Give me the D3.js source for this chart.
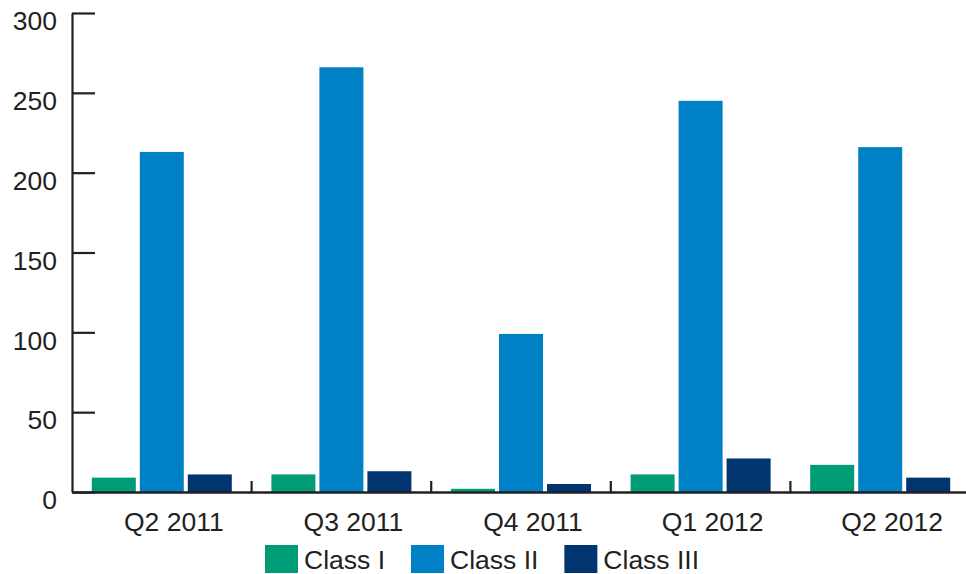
<!DOCTYPE html>
<html>
<head>
<meta charset="utf-8">
<script src="https://cdn.jsdelivr.net/npm/d3@7"></script>
<style>
  body { margin: 0; background: #fff; }
  svg { display: block; font-family: "Liberation Sans", Arial, Helvetica, sans-serif; }
</style>
</head>
<body>
<svg id="chart" width="966" height="574"></svg>
<script>
// data
var quarters = ["Q2 2011", "Q3 2011", "Q4 2011", "Q1 2012", "Q2 2012"];
var seriesNames = ["Class I", "Class II", "Class III"];
var classI = [9, 11, 2, 11, 17];
var classII = [213, 266, 99, 245, 216];
var classIII = [11, 13, 5, 21, 9];
var yTicks = [0, 50, 100, 150, 200, 250, 300];
var colors = ["#009b77", "#0081c6", "#00356f"];

var seriesValues = [classI, classII, classIII];
var ink = "#231f20";

var svg = d3.select("#chart");

// plot box (window.top is reserved, so prefixed names)
var plotLeft = 72, plotRight = 970, plotTop = 13, plotBottom = 492;

var x0 = d3.scaleBand().domain(quarters).range([plotLeft, plotRight]).padding(0);
var x1 = d3.scaleBand().domain(seriesNames).range([0, x0.bandwidth()])
    .paddingInner(0.0833).paddingOuter(0.4125);
var y = d3.scaleLinear().domain([0, 300]).range([plotBottom, plotTop]);
var color = d3.scaleOrdinal().domain(seriesNames).range(colors);

// bars
var groups = svg.append("g").selectAll("g")
    .data(quarters)
    .enter().append("g")
    .attr("transform", function(d) { return "translate(" + x0(d) + ",0)"; });

groups.selectAll("rect")
    .data(function(d, i) {
        return seriesNames.map(function(s, j) { return {name: s, value: seriesValues[j][i]}; });
    })
    .enter().append("rect")
    .attr("x", function(d) { return x1(d.name); })
    .attr("width", x1.bandwidth())
    .attr("y", function(d) { return y(d.value); })
    .attr("height", function(d) { return y(0) - y(d.value); })
    .style("fill", function(d) { return color(d.name); });

// y axis, ticks pointing inward
var yAxis = svg.append("g")
    .attr("transform", "translate(" + plotLeft + ",0)")
    .call(d3.axisLeft(y).tickValues(yTicks).tickSizeInner(-23).tickSizeOuter(0).tickPadding(15));
yAxis.selectAll("line").style("stroke", ink).style("stroke-width", "2.2px");
yAxis.select(".domain").style("stroke", ink).style("stroke-width", "2.2px");
yAxis.selectAll("text")
    .attr("dy", "0.63em")
    .style("font-size", "26.5px")
    .style("fill", ink);

// x axis with labels
var xAxis = svg.append("g")
    .attr("transform", "translate(0," + plotBottom + ")")
    .call(d3.axisBottom(x0).tickSize(0).tickPadding(20.5));
xAxis.select(".domain").style("stroke", ink).style("stroke-width", "2.5px");
xAxis.selectAll("text")
    .attr("dx", 12)
    .style("font-size", "26.5px")
    .style("fill", ink);

// boundary ticks between quarters
svg.append("g").selectAll("line")
    .data(quarters.slice(1))
    .enter().append("line")
    .attr("x1", function(d) { return x0(d); })
    .attr("x2", function(d) { return x0(d); })
    .attr("y1", plotBottom)
    .attr("y2", plotBottom - 11)
    .style("stroke", ink)
    .style("stroke-width", "2.2px");

// legend
var legend = svg.append("g");
var lx = 265;
seriesNames.forEach(function(name) {
    var item = legend.append("g").attr("transform", "translate(" + lx + ",545)");
    item.append("rect")
        .attr("width", 33)
        .attr("height", 28)
        .style("fill", color(name));
    var t = item.append("text")
        .attr("x", 39)
        .attr("y", 24.3)
        .style("font-size", "26.5px")
        .style("fill", ink)
        .text(name);
    lx += 39 + t.node().getComputedTextLength() + 26;
});
</script>
</body>
</html>
